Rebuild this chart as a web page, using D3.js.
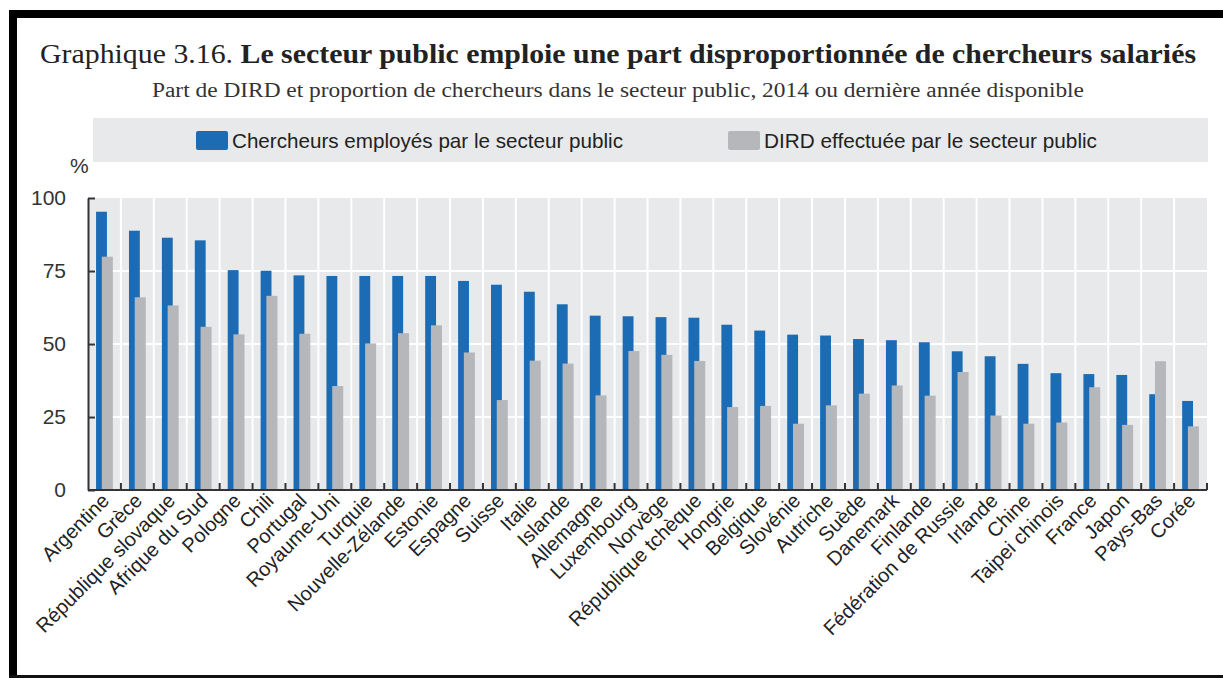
<!DOCTYPE html>
<html>
<head>
<meta charset="utf-8">
<script src="https://cdn.jsdelivr.net/npm/d3@7"></script>
<style>
  body { margin: 0; background: #fff; }
  svg { display: block; }
</style>
</head>
<body>
<div id="chart"></div>
<script>
// data
var countries = ["Argentine", "Grèce", "République slovaque", "Afrique du Sud", "Pologne", "Chili",
  "Portugal", "Royaume-Uni", "Turquie", "Nouvelle-Zélande", "Estonie", "Espagne", "Suisse", "Italie",
  "Islande", "Allemagne", "Luxembourg", "Norvège", "République tchèque", "Hongrie", "Belgique",
  "Slovénie", "Autriche", "Suède", "Danemark", "Finlande", "Fédération de Russie", "Irlande", "Chine",
  "Taipei chinois", "France", "Japon", "Pays-Bas", "Corée"];

// Chercheurs employés par le secteur public
var chercheurs = [95.3, 88.8, 86.4, 85.5, 75.3, 75.1, 73.5, 73.3, 73.3, 73.3, 73.3, 71.6, 70.3, 67.9,
  63.6, 59.7, 59.5, 59.2, 59.0, 56.6, 54.6, 53.2, 52.9, 51.7, 51.3, 50.6, 47.5, 45.8, 43.2,
  40.0, 39.7, 39.4, 32.8, 30.5];

// DIRD effectuée par le secteur public
var dird = [79.9, 66.0, 63.2, 55.9, 53.3, 66.5, 53.5, 35.6, 50.2, 53.7, 56.4, 47.1, 30.8, 44.3,
  43.3, 32.4, 47.6, 46.3, 44.2, 28.4, 28.8, 22.7, 29.0, 33.0, 35.8, 32.3, 40.4, 25.5, 22.7,
  23.1, 35.2, 22.3, 44.1, 21.8];

var yTicks = [0, 25, 50, 75, 100];
var seriesNames = ["Chercheurs employés par le secteur public", "DIRD effectuée par le secteur public"];

var blue = "#1b6cb4", grey = "#b6b7ba", panel = "#e8e9eb";

var W = 1223, H = 678;
var margin = {top: 198, right: 16, bottom: 188, left: 88};

var svg = d3.select("#chart").append("svg")
    .attr("width", W)
    .attr("height", H);

// black frame (top, left, bottom)
svg.append("rect").attr("x", 9).attr("y", 10).attr("width", W - 9).attr("height", 8).attr("fill", "#000");
svg.append("rect").attr("x", 9).attr("y", 10).attr("width", 8).attr("height", H - 10).attr("fill", "#000");
svg.append("rect").attr("x", 9).attr("y", 675).attr("width", W - 9).attr("height", 3).attr("fill", "#111");

// title
var title = svg.append("text")
    .attr("x", 40)
    .attr("y", 63)
    .attr("font-family", "Liberation Serif, serif")
    .attr("font-size", "27px")
    .attr("fill", "#222")
    .attr("textLength", 1156)
    .attr("lengthAdjust", "spacingAndGlyphs");
title.append("tspan").text("Graphique 3.16. ");
title.append("tspan").attr("font-weight", "bold").text(" Le secteur public emploie une part disproportionnée de chercheurs salariés");

svg.append("text")
    .attr("x", 152)
    .attr("y", 97)
    .attr("font-family", "Liberation Serif, serif")
    .attr("font-size", "20px")
    .attr("fill", "#333")
    .attr("textLength", 932)
    .attr("lengthAdjust", "spacingAndGlyphs")
    .text("Part de DIRD et proportion de chercheurs dans le secteur public, 2014 ou dernière année disponible");

// legend
svg.append("rect")
    .attr("x", 93).attr("y", 118)
    .attr("width", 1115).attr("height", 44)
    .attr("fill", panel);

var legendItems = [
  {name: seriesNames[0], color: blue, x: 196, len: 391},
  {name: seriesNames[1], color: grey, x: 728, len: 333}
];
var legend = svg.selectAll(".legend")
    .data(legendItems)
    .enter()
    .append("g")
    .attr("class", "legend");
legend.append("rect")
    .attr("x", function(d) { return d.x; })
    .attr("y", 131)
    .attr("width", 32)
    .attr("height", 19)
    .attr("rx", 2)
    .attr("fill", function(d) { return d.color; });
legend.append("text")
    .attr("x", function(d) { return d.x + 36; })
    .attr("y", 148)
    .attr("font-family", "Liberation Sans, Arial, sans-serif")
    .attr("font-size", "21px")
    .attr("fill", "#222")
    .attr("textLength", function(d) { return d.len; })
    .attr("lengthAdjust", "spacingAndGlyphs")
    .text(function(d) { return d.name; });

// scales
var x = d3.scaleBand()
    .domain(countries)
    .range([margin.left, W - margin.right])
    .padding(0);

var y = d3.scaleLinear()
    .domain([0, 100])
    .range([H - margin.bottom, margin.top]);

var bw = x.bandwidth();

// plot panel
svg.append("rect")
    .attr("x", margin.left)
    .attr("y", y(100))
    .attr("width", W - margin.right - margin.left)
    .attr("height", y(0) - y(100))
    .attr("fill", panel);

// white gridlines
svg.selectAll(".hgrid")
    .data(yTicks.filter(function(d) { return d > 0 && d < 100; }))
    .enter()
    .append("line")
    .attr("x1", margin.left).attr("x2", W - margin.right)
    .attr("y1", function(d) { return y(d); })
    .attr("y2", function(d) { return y(d); })
    .attr("stroke", "#fff")
    .attr("stroke-width", 2);

svg.selectAll(".vgrid")
    .data(countries.slice(1))
    .enter()
    .append("line")
    .attr("x1", function(d) { return x(d); })
    .attr("x2", function(d) { return x(d); })
    .attr("y1", y(100)).attr("y2", y(0))
    .attr("stroke", "#fff")
    .attr("stroke-width", 2);

// bars
svg.selectAll(".barBlue")
    .data(countries)
    .enter()
    .append("rect")
    .attr("class", "barBlue")
    .attr("x", function(d) { return x(d) + bw * 0.245; })
    .attr("y", function(d, i) { return y(chercheurs[i]); })
    .attr("width", bw * 0.33)
    .attr("height", function(d, i) { return y(0) - y(chercheurs[i]); })
    .attr("fill", blue);

svg.selectAll(".barGrey")
    .data(countries)
    .enter()
    .append("rect")
    .attr("class", "barGrey")
    .attr("x", function(d) { return x(d) + bw * 0.42; })
    .attr("y", function(d, i) { return y(dird[i]); })
    .attr("width", bw * 0.335)
    .attr("height", function(d, i) { return y(0) - y(dird[i]); })
    .attr("fill", grey);

// y axis
var yAxis = d3.axisLeft(y)
    .tickValues(yTicks)
    .tickSizeInner(-7)
    .tickSizeOuter(0)
    .tickPadding(22);

var gy = svg.append("g")
    .attr("transform", "translate(" + margin.left + ",0)")
    .call(yAxis);
gy.select(".domain").attr("stroke", "#333").attr("stroke-width", 2);
gy.selectAll(".tick line").attr("stroke", "#333").attr("stroke-width", 2);
gy.selectAll(".tick text")
    .attr("font-family", "Liberation Sans, Arial, sans-serif")
    .attr("font-size", "21px")
    .attr("fill", "#333");

svg.append("text")
    .attr("x", 70)
    .attr("y", 173)
    .attr("font-family", "Liberation Sans, Arial, sans-serif")
    .attr("font-size", "21px")
    .attr("fill", "#333")
    .text("%");

// x axis line with boundary ticks
svg.append("line")
    .attr("x1", margin.left).attr("x2", W - margin.right)
    .attr("y1", y(0)).attr("y2", y(0))
    .attr("stroke", "#333")
    .attr("stroke-width", 2);

svg.selectAll(".xtick")
    .data(countries.slice(1).map(function(d) { return x(d); }).concat([W - margin.right]))
    .enter()
    .append("line")
    .attr("x1", function(d) { return d; })
    .attr("x2", function(d) { return d; })
    .attr("y1", y(0)).attr("y2", y(0) - 7)
    .attr("stroke", "#333")
    .attr("stroke-width", 2);

// rotated country labels
svg.selectAll(".xlabel")
    .data(countries)
    .enter()
    .append("text")
    .attr("class", "xlabel")
    .attr("transform", function(d) {
      return "translate(" + (x(d) + bw / 2 + 6) + "," + (y(0) + 12) + ") rotate(-45)";
    })
    .attr("text-anchor", "end")
    .attr("font-family", "Liberation Sans, Arial, sans-serif")
    .attr("font-size", "20px")
    .attr("fill", "#222")
    .text(function(d) { return d; });
</script>
</body>
</html>
